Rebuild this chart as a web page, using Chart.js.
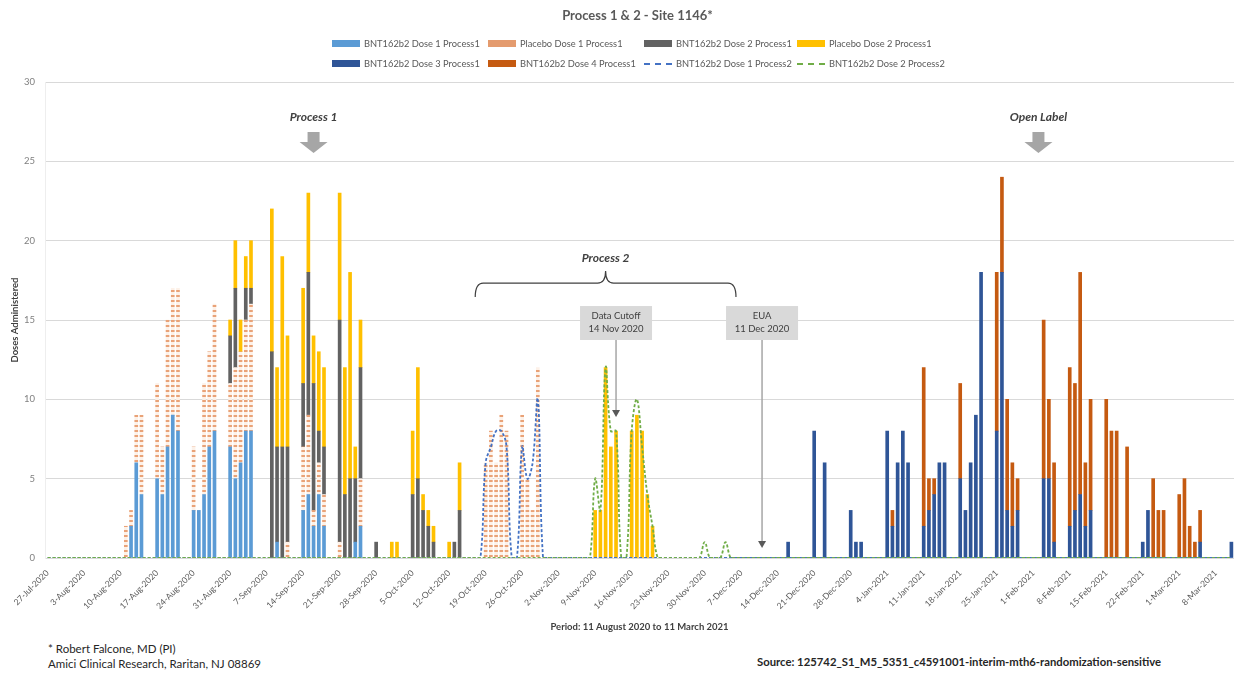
<!DOCTYPE html>
<html>
<head>
<meta charset="utf-8">
<script src="https://cdn.jsdelivr.net/npm/chart.js@4.4.1/dist/chart.umd.min.js"></script>
<style>
  body { margin: 0; background: #fff; font-family: Lato, "Open Sans", sans-serif; }
  #wrap { position: relative; width: 1244px; height: 675px; overflow: hidden; }
  #chart { position: absolute; left: 0; top: 0; }
  #title { position: absolute; left: 0; width: 1275px; top: 7px; text-align: center;
           font-size: 13px; font-weight: bold; color: #595959; }
  .lg { position: absolute; font-size: 9.3px; color: #595959; white-space: nowrap; line-height: 12px; }
  .lg .sw { display: inline-block; width: 28px; height: 7px; vertical-align: middle; margin-right: 4px; margin-top: -2px; }
  .lg .dl { display: inline-block; width: 28px; height: 0; border-top: 2px dashed; vertical-align: middle; margin-right: 4px; margin-top: -2px; }
  .foot { position: absolute; font-size: 11.5px; color: #262626; white-space: nowrap; }
</style>
</head>
<body>
<div id="wrap">
  <canvas id="chart" width="1244" height="640"></canvas>
  <div id="title">Process 1 &amp; 2 - Site 1146*</div>
  <div id="legend"></div>
  <div class="foot" style="left:48px;top:642px">* Robert Falcone, MD (PI)</div>
  <div class="foot" style="left:48px;top:657px">Amici Clinical Research, Raritan, NJ 08869</div>
  <div class="foot" style="left:757px;top:655px;font-weight:bold;font-size:11.3px">Source: 125742_S1_M5_5351_c4591001-interim-mth6-randomization-sensitive</div>
</div>
<script>
const startDate = '2020-07-27';
const dayCount = 228;
const monthNames = ['Jan','Feb','Mar','Apr','May','Jun','Jul','Aug','Sep','Oct','Nov','Dec'];

// doses per day, [date, count]
const dose1P1 = [
  ['2020-08-12',2],['2020-08-13',6],['2020-08-14',4],
  ['2020-08-17',5],['2020-08-18',4],['2020-08-19',7],['2020-08-20',9],['2020-08-21',8],
  ['2020-08-24',3],['2020-08-25',3],['2020-08-26',4],['2020-08-27',7],['2020-08-28',8],
  ['2020-08-31',7],['2020-09-01',5],['2020-09-02',6],['2020-09-03',8],['2020-09-04',8],
  ['2020-09-09',1],
  ['2020-09-14',3],['2020-09-15',4],['2020-09-16',2],['2020-09-17',4],['2020-09-18',2],
  ['2020-09-24',1],['2020-09-25',2]
];
const placebo1P1 = [
  ['2020-08-11',2],['2020-08-12',1],['2020-08-13',3],['2020-08-14',5],
  ['2020-08-17',6],['2020-08-18',3],['2020-08-19',8],['2020-08-20',8],['2020-08-21',9],
  ['2020-08-24',4],['2020-08-26',7],['2020-08-27',6],['2020-08-28',8],
  ['2020-08-31',4],['2020-09-01',7],['2020-09-02',7],['2020-09-03',7],['2020-09-04',8],
  ['2020-09-11',1],
  ['2020-09-14',4],['2020-09-15',5],['2020-09-16',1],['2020-09-17',2],['2020-09-18',2],
  ['2020-09-21',1],['2020-09-25',3],
  ['2020-10-19',6],['2020-10-20',8],['2020-10-21',6],['2020-10-22',9],['2020-10-23',8],
  ['2020-10-26',9],['2020-10-27',5],['2020-10-28',3],['2020-10-29',12]
];
const dose2P1 = [
  ['2020-08-31',3],['2020-09-01',5],['2020-09-03',2],['2020-09-04',1],
  ['2020-09-08',13],['2020-09-09',6],['2020-09-10',7],['2020-09-11',6],
  ['2020-09-14',4],['2020-09-15',9],['2020-09-16',8],['2020-09-17',2],['2020-09-18',3],
  ['2020-09-21',14],['2020-09-22',4],['2020-09-23',5],['2020-09-24',4],['2020-09-25',7],
  ['2020-09-28',1],
  ['2020-10-05',4],['2020-10-06',5],['2020-10-07',3],['2020-10-08',2],['2020-10-09',1],
  ['2020-10-13',1],['2020-10-14',3]
];
const placebo2P1 = [
  ['2020-08-31',1],['2020-09-01',3],['2020-09-02',2],['2020-09-03',2],['2020-09-04',3],
  ['2020-09-08',9],['2020-09-09',5],['2020-09-10',12],['2020-09-11',7],
  ['2020-09-14',6],['2020-09-15',5],['2020-09-16',3],['2020-09-17',5],['2020-09-18',5],
  ['2020-09-21',8],['2020-09-22',8],['2020-09-23',13],['2020-09-24',2],['2020-09-25',3],
  ['2020-10-01',1],['2020-10-02',1],
  ['2020-10-05',4],['2020-10-06',7],['2020-10-07',1],['2020-10-08',1],['2020-10-09',1],
  ['2020-10-12',1],['2020-10-14',3],
  ['2020-11-09',3],['2020-11-10',3],['2020-11-11',12],['2020-11-12',7],['2020-11-13',8],
  ['2020-11-16',8],['2020-11-17',9],['2020-11-18',8],['2020-11-19',4],['2020-11-20',2]
];
const dose3P1 = [
  ['2020-12-16',1],['2020-12-21',8],['2020-12-23',6],
  ['2020-12-28',3],['2020-12-29',1],['2020-12-30',1],
  ['2021-01-04',8],['2021-01-05',2],['2021-01-06',6],['2021-01-07',8],['2021-01-08',6],
  ['2021-01-11',2],['2021-01-12',3],['2021-01-13',4],['2021-01-14',6],['2021-01-15',6],
  ['2021-01-18',5],['2021-01-19',3],['2021-01-20',6],['2021-01-21',9],['2021-01-22',18],
  ['2021-01-25',8],['2021-01-26',18],['2021-01-27',3],['2021-01-28',2],['2021-01-29',3],
  ['2021-02-03',5],['2021-02-04',5],['2021-02-05',1],
  ['2021-02-08',2],['2021-02-09',3],['2021-02-10',4],['2021-02-11',2],['2021-02-12',3],
  ['2021-02-22',1],['2021-02-23',3],
  ['2021-03-05',1],['2021-03-11',1]
];
const dose4P1 = [
  ['2021-01-05',1],
  ['2021-01-11',10],['2021-01-12',2],['2021-01-13',1],
  ['2021-01-18',6],
  ['2021-01-25',10],['2021-01-26',6],['2021-01-27',7],['2021-01-28',4],['2021-01-29',2],
  ['2021-02-03',10],['2021-02-04',5],['2021-02-05',5],
  ['2021-02-08',10],['2021-02-09',8],['2021-02-10',14],['2021-02-11',4],['2021-02-12',7],
  ['2021-02-15',10],['2021-02-16',8],['2021-02-17',8],['2021-02-19',7],
  ['2021-02-24',5],['2021-02-25',3],['2021-02-26',3],
  ['2021-03-01',4],['2021-03-02',5],['2021-03-03',2],['2021-03-04',1],['2021-03-05',2]
];
const dose1P2 = [
  ['2020-10-19',6],['2020-10-20',7],['2020-10-21',8],['2020-10-22',8],['2020-10-23',7],
  ['2020-10-26',7],['2020-10-27',5],['2020-10-28',6],['2020-10-29',10]
];
const dose2P2 = [
  ['2020-11-09',5],['2020-11-10',3],['2020-11-11',12],['2020-11-12',8],['2020-11-13',8],
  ['2020-11-16',8],['2020-11-17',10],['2020-11-18',7],['2020-11-19',4],['2020-11-20',2],
  ['2020-11-30',1],['2020-12-04',1]
];

function dayIndex(iso) {
  return Math.round((Date.parse(iso) - Date.parse(startDate)) / 864e5);
}
function toSeries(pairs, empty) {
  const out = new Array(dayCount).fill(empty);
  pairs.forEach(([d, v]) => { out[dayIndex(d)] = v; });
  return out;
}

const days = [];
for (let i = 0; i < dayCount; i++) {
  const t = new Date(Date.parse(startDate) + i * 864e5);
  days.push(t.getUTCDate() + '-' + monthNames[t.getUTCMonth()] + '-' + t.getUTCFullYear());
}

// orange dashed look of the placebo dose 1 bars
function dashPattern() {
  const c = document.createElement('canvas');
  c.width = 4; c.height = 5;
  const g = c.getContext('2d');
  g.fillStyle = '#FDF1E8'; g.fillRect(0, 0, 4, 5);
  g.fillStyle = '#E9A277'; g.fillRect(0, 0, 4, 2);
  return g.createPattern(c, 'repeat');
}

Chart.defaults.font.family = 'Lato, "Open Sans", sans-serif';

const bar = (label, pairs, color) => ({
  type: 'bar', label, data: toSeries(pairs, null), backgroundColor: color,
  barThickness: 3, borderWidth: 0, order: 1
});
const line = (label, pairs, color, stack, order) => ({
  type: 'line', label, data: toSeries(pairs, 0), borderColor: color, backgroundColor: color,
  borderDash: [3, 2], borderWidth: 1.8, pointRadius: 0, tension: 0.4, fill: false,
  stack, order
});

const datasets = [
  bar('BNT162b2 Dose 1 Process1', dose1P1, '#5B9BD5'),
  bar('Placebo Dose 1 Process1', placebo1P1, dashPattern()),
  bar('BNT162b2 Dose 2 Process1', dose2P1, '#626262'),
  bar('Placebo Dose 2 Process1', placebo2P1, '#FFC000'),
  bar('BNT162b2 Dose 3 Process1', dose3P1, '#2F5597'),
  bar('BNT162b2 Dose 4 Process1', dose4P1, '#C55A11'),
  line('BNT162b2 Dose 1 Process2', dose1P2, '#4472C4', 'p2d1', 0),
  line('BNT162b2 Dose 2 Process2', dose2P2, '#70AD47', 'p2d2', -1)
];

// legend, two rows of four
const legendCols = [332, 488, 644, 797];
const legendRows = [38, 58];
const legendSwatch = ['#5B9BD5', '#E49B6E', '#626262', '#FFC000', '#2F5597', '#C55A11'];
const legendEl = document.getElementById('legend');
datasets.forEach((ds, i) => {
  const item = document.createElement('div');
  item.className = 'lg';
  item.style.left = legendCols[i % 4] + 'px';
  item.style.top = legendRows[Math.floor(i / 4)] + 'px';
  const mark = document.createElement('span');
  if (ds.type === 'line') {
    mark.className = 'dl';
    mark.style.borderColor = ds.borderColor;
  } else {
    mark.className = 'sw';
    mark.style.background = legendSwatch[i];
  }
  item.appendChild(mark);
  item.appendChild(document.createTextNode(ds.label));
  legendEl.appendChild(item);
});

// phase labels, brace and callouts
const annotate = {
  id: 'annotate',
  afterDatasetsDraw(chart) {
    const { ctx, scales: { x, y } } = chart;
    const px = d => x.getPixelForValue(dayIndex(d));
    ctx.save();
    ctx.textAlign = 'center';
    ctx.textBaseline = 'middle';

    [['Process 1', '2020-09-16'], ['Open Label', '2021-02-02']].forEach(([text, d]) => {
      const cx = px(d);
      ctx.font = 'italic bold 12px Lato';
      ctx.fillStyle = '#404040';
      ctx.fillText(text, cx, y.getPixelForValue(27.8));
      const top = y.getPixelForValue(26.85), mid = y.getPixelForValue(26.22), tip = y.getPixelForValue(25.52);
      ctx.fillStyle = '#A6A6A6';
      ctx.beginPath();
      ctx.moveTo(cx - 6, top); ctx.lineTo(cx + 6, top); ctx.lineTo(cx + 6, mid);
      ctx.lineTo(cx + 14, mid); ctx.lineTo(cx, tip); ctx.lineTo(cx - 14, mid);
      ctx.lineTo(cx - 6, mid); ctx.closePath(); ctx.fill();
    });

    // Process 2 brace
    const bl = px('2020-10-17'), br = px('2020-12-06'), bc = (bl + br) / 2;
    const by = y.getPixelForValue(17.33), bEnd = y.getPixelForValue(16.45), bTip = y.getPixelForValue(18.09);
    ctx.font = 'italic bold 12px Lato';
    ctx.fillStyle = '#404040';
    ctx.fillText('Process 2', bc, y.getPixelForValue(18.9));
    ctx.strokeStyle = '#404040';
    ctx.lineWidth = 1.2;
    ctx.beginPath();
    ctx.moveTo(bl, bEnd);
    ctx.quadraticCurveTo(bl, by, bl + 8, by);
    ctx.lineTo(bc - 8, by);
    ctx.quadraticCurveTo(bc, by, bc, bTip);
    ctx.quadraticCurveTo(bc, by, bc + 8, by);
    ctx.lineTo(br - 8, by);
    ctx.quadraticCurveTo(br, by, br, bEnd);
    ctx.stroke();

    // callouts
    [[['Data Cutoff', '14 Nov 2020'], '2020-11-13', 8.89], [['EUA', '11 Dec 2020'], '2020-12-11', 0.63]].forEach(([lines, d, tipVal]) => {
      const cx = px(d);
      const top = y.getPixelForValue(15.88), bot = y.getPixelForValue(13.74), tip = y.getPixelForValue(tipVal);
      ctx.fillStyle = '#D9D9D9';
      ctx.fillRect(cx - 36, top, 72, bot - top);
      ctx.fillStyle = '#404040';
      ctx.font = '9.5px Lato';
      ctx.fillText(lines[0], cx, y.getPixelForValue(15.25));
      ctx.fillText(lines[1], cx, y.getPixelForValue(14.43));
      ctx.strokeStyle = '#A6A6A6';
      ctx.lineWidth = 1.5;
      ctx.beginPath(); ctx.moveTo(cx, bot); ctx.lineTo(cx, tip - 5); ctx.stroke();
      ctx.fillStyle = '#595959';
      ctx.beginPath(); ctx.moveTo(cx - 4, tip - 7); ctx.lineTo(cx + 4, tip - 7); ctx.lineTo(cx, tip); ctx.closePath(); ctx.fill();
    });
    ctx.restore();
  }
};

new Chart(document.getElementById('chart'), {
  type: 'bar',
  data: { labels: days, datasets },
  options: {
    responsive: false,
    animation: false,
    devicePixelRatio: 1,
    layout: { padding: { top: 82, right: 10, bottom: 0, left: 0 } },
    plugins: { legend: { display: false }, title: { display: false }, tooltip: { enabled: false } },
    scales: {
      x: {
        stacked: true,
        offset: true,
        grid: { display: false },
        border: { display: false },
        ticks: {
          autoSkip: false, minRotation: 45, maxRotation: 45, padding: 2,
          color: '#595959', font: { size: 8.5 },
          callback: (v, i) => (i % 7 === 0 ? days[i] : '')
        },
        title: {
          display: true, text: 'Period: 11 August 2020 to 11 March 2021',
          color: '#404040', font: { size: 9.5, weight: 'bold' }, padding: { top: 0, bottom: 7 }
        },
        afterFit: s => { s.height = 82; }
      },
      y: {
        stacked: true,
        min: 0, max: 30,
        ticks: { stepSize: 5, padding: 10, color: '#808080', font: { size: 9.5 } },
        grid: { color: '#D9D9D9', drawTicks: false },
        border: { color: '#EEEEEE' },
        title: {
          display: true, text: 'Doses Administered',
          color: '#404040', font: { size: 9.5, weight: 'bold' }, padding: { top: 9, bottom: 0 }
        },
        afterFit: s => { s.width = 45; }
      }
    }
  },
  plugins: [annotate]
});
</script>
</body>
</html>
